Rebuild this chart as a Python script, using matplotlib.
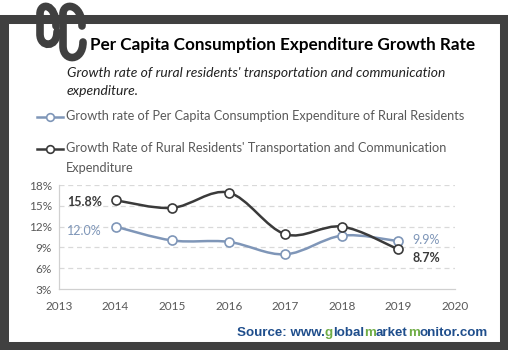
import numpy as np
import matplotlib.pyplot as plt
from matplotlib.path import Path
from matplotlib.patches import PathPatch, Rectangle
from matplotlib.lines import Line2D

# data
years = [2014, 2015, 2016, 2017, 2018, 2019]
consumption_growth = [12.0, 10.0, 9.8, 8.0, 10.7, 9.9]
transport_growth = [15.8, 14.7, 16.9, 10.9, 12.0, 8.7]
yticks = [3, 6, 9, 12, 15, 18]
xticks = [2013, 2014, 2015, 2016, 2017, 2018, 2019, 2020]

light = '#7f96b8'
dark = '#3a3a3a'
gray_text = '#595959'
W, H = 508, 350


def fx(x):
    return x / W


def fy(y):
    return 1 - y / H


def smooth_path(xs, ys):
    """Excel-like smoothed line: cubic bezier through the points."""
    pts = np.column_stack([xs, ys]).astype(float)
    n = len(pts)
    verts = [pts[0]]
    codes = [Path.MOVETO]
    for i in range(n - 1):
        p0 = pts[i - 1] if i > 0 else pts[i]
        p1 = pts[i]
        p2 = pts[i + 1]
        p3 = pts[i + 2] if i + 2 < n else pts[i + 1]
        c1 = p1 + (p2 - p0) / 6
        c2 = p2 - (p3 - p1) / 6
        verts += [c1, c2, p2]
        codes += [Path.CURVE4] * 3
    return Path(verts, codes)


plt.rcParams['font.family'] = ['Lato', 'DejaVu Sans']
fig = plt.figure(figsize=(5.08, 3.5), dpi=100)

# frame
fig.patches.append(Rectangle((fx(4), fy(346)), fx(500), (346 - 19) / H, transform=fig.transFigure,
                             fill=False, edgecolor='#404040', linewidth=6.5))

# paper clip
clip1 = Path([(56, 26), (56, 3), (40, 2), (40, 14), (40, 34), (40, 48), (57, 48), (57, 32)],
             [Path.MOVETO, Path.CURVE4, Path.CURVE4, Path.CURVE4, Path.LINETO, Path.CURVE4, Path.CURVE4, Path.CURVE4])
clip2 = Path([(82, 26), (82, 3), (63, 2), (63, 14), (63, 46), (63, 62), (83, 62), (83, 42)],
             [Path.MOVETO, Path.CURVE4, Path.CURVE4, Path.CURVE4, Path.LINETO, Path.CURVE4, Path.CURVE4, Path.CURVE4])
for c in (clip1, clip2):
    v = np.array([[fx(a), fy(b)] for a, b in c.vertices])
    fig.patches.append(PathPatch(Path(v, c.codes), transform=fig.transFigure, fill=False,
                                 edgecolor='#404040', linewidth=5.5, capstyle='round'))

fig.text(fx(90), fy(45), 'Per Capita Consumption Expenditure Growth Rate', fontsize=12.3,
         fontweight='bold', color='black', va='center', ha='left')
fig.text(fx(67), fy(82), "Growth rate of rural residents' transportation and communication\nexpenditure.",
         fontsize=10, style='italic', color='#222222', va='center', ha='left', linespacing=1.6)

# legend
legend_rows = [(117, light, 'Growth rate of Per Capita Consumption Expenditure of Rural Residents'),
               (149, dark, "Growth Rate of Rural Residents' Transportation and Communication\nExpenditure")]
for y, col, label in legend_rows:
    fig.lines.append(Line2D([fx(37), fx(63)], [fy(y), fy(y)], transform=fig.transFigure, color=col,
                            linewidth=1.8, zorder=3))
    fig.lines.append(Line2D([fx(50)], [fy(y)], transform=fig.transFigure, color=col, marker='o',
                            markersize=5.5, markerfacecolor='white', markeredgewidth=1.2, zorder=4))
    fig.text(fx(66), fy(y - 7), label, fontsize=9.2, color=gray_text, va='top', ha='left',
             linespacing=1.85)

ax = fig.add_axes([fx(59), fy(289), fx(455 - 59), (289 - 185) / H])
ax.set_xlim(2013, 2020)
ax.set_ylim(3, 18)
ax.set_xticks(xticks)
ax.set_yticks(yticks)
ax.set_yticklabels([f'{t}%' for t in yticks])
ax.tick_params(length=0, labelsize=8.5, colors=gray_text, pad=5)
ax.tick_params(axis='x', pad=9)
for t in yticks[1:]:
    ax.axhline(t, color='#d9d9d9', linewidth=0.9, linestyle=(0, (4, 3)), zorder=0)
for s in ('top', 'right'):
    ax.spines[s].set_visible(False)
for s in ('left', 'bottom'):
    ax.spines[s].set_color('#d0d0d0')
    ax.spines[s].set_linewidth(0.9)

for vals, col in ((consumption_growth, light), (transport_growth, dark)):
    ax.add_patch(PathPatch(smooth_path(years, vals), fill=False, edgecolor=col, linewidth=1.8, zorder=3))
    ax.plot(years, vals, linestyle='none', marker='o', markersize=6.5, markerfacecolor='white',
            markeredgecolor=col, markeredgewidth=1.2, zorder=4)

ax.annotate(f'{transport_growth[0]:.1f}%', (years[0], transport_growth[0]), xytext=(-10, -1),
            textcoords='offset points', ha='right', va='center', fontsize=9, fontweight='bold', color=dark)
ax.annotate(f'{consumption_growth[0]:.1f}%', (years[0], consumption_growth[0]), xytext=(-10, -3),
            textcoords='offset points', ha='right', va='center', fontsize=9, color=light)
ax.annotate(f'{consumption_growth[-1]:.1f}%', (years[-1], consumption_growth[-1]), xytext=(10, 1),
            textcoords='offset points', ha='left', va='center', fontsize=9, color=light)
ax.annotate(f'{transport_growth[-1]:.1f}%', (years[-1], transport_growth[-1]), xytext=(10, -6),
            textcoords='offset points', ha='left', va='center', fontsize=9, fontweight='bold', color=dark)

# source line, each coloured piece placed by measuring the text before it
blue = '#1f4e8c'
green = '#70ad47'
parts = [('Source: www.', blue), ('g', green), ('lobal', blue), ('m', green), ('arket', blue),
         ('m', green), ('onitor.com', blue)]
src_kw = dict(fontsize=9.6, fontweight='bold', va='baseline', ha='left', family='Liberation Sans')
fig.canvas.draw()
r = fig.canvas.get_renderer()


def text_width(s):
    t = fig.text(0, 0, s, **src_kw)
    w = t.get_window_extent(r).width
    t.remove()
    return w


prefix = ''
for s, col in parts:
    offset = text_width(prefix + s) - text_width(s) if prefix else 0
    fig.text(fx(237) + offset / W, fy(336), s, color=col, **src_kw)
    prefix += s

fig.savefig('out.png', dpi=100)
